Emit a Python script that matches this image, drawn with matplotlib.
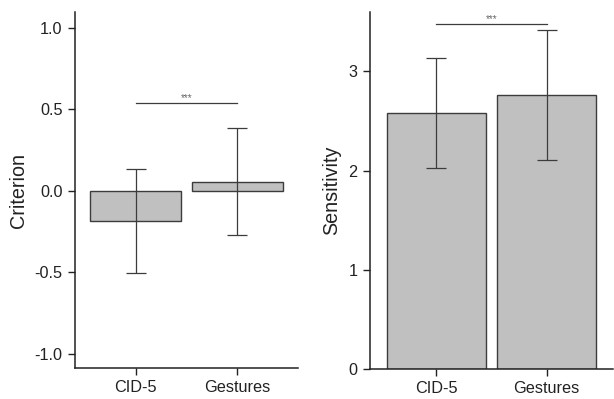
import matplotlib.pyplot as plt

plt.rcParams['font.family'] = ['Liberation Sans', 'DejaVu Sans']

# Datos
grupos = ['CID-5', 'Gestures']
criterio = [-0.185, 0.057]
criterio_err = [0.32, 0.33]
sensibilidad = [2.58, 2.76]
sensibilidad_err = [0.55, 0.655]
sig_criterio = 0.54
sig_sensibilidad = 3.475

gris_barra = '#c0c0c0'
gris_borde = '#3c3c3c'
gris_texto = '#222222'

fig = plt.figure(figsize=(6.14, 3.99), dpi=100)
ax1 = fig.add_axes([0.1221, 0.0777, 0.3632, 0.892])
ax2 = fig.add_axes([0.6026, 0.0752, 0.3958, 0.894])

x = range(len(grupos))


def dibujar(ax, valores, errores, sig_y, ylabel):
    ax.bar(x, valores, width=0.9, color=gris_barra, edgecolor=gris_borde, linewidth=1.0)
    ax.errorbar(x, valores, yerr=errores, fmt='none', ecolor=gris_borde,
                elinewidth=0.9, capsize=7.5, capthick=0.9)
    ax.plot([0, 1], [sig_y, sig_y], color=gris_borde, linewidth=0.9)
    ax.text(0.5, sig_y, '***', ha='center', va='bottom', fontsize=7, color='#666666')
    ax.set_xticks(list(x))
    ax.set_xticklabels(grupos)
    ax.set_xlim(-0.6, 1.6)
    ax.set_ylabel(ylabel, fontsize=14.2, color=gris_texto, labelpad=5)
    ax.spines['top'].set_visible(False)
    ax.spines['right'].set_visible(False)
    for s in ('left', 'bottom'):
        ax.spines[s].set_color(gris_texto)
        ax.spines[s].set_linewidth(1.1)
    ax.tick_params(labelsize=11.7, colors=gris_texto, length=5, width=1.0, pad=4)


dibujar(ax1, criterio, criterio_err, sig_criterio, 'Criterion')
ax1.set_ylim(-1.087, 1.098)
ax1.set_yticks([-1.0, -0.5, 0.0, 0.5, 1.0])
ax1.set_yticklabels(['-1.0', '-0.5', '0.0', '0.5', '1.0'])

dibujar(ax2, sensibilidad, sensibilidad_err, sig_sensibilidad, 'Sensitivity')
ax2.set_ylim(0, 3.595)
ax2.set_yticks([0, 1, 2, 3])

fig.savefig('out.png', dpi=100)
